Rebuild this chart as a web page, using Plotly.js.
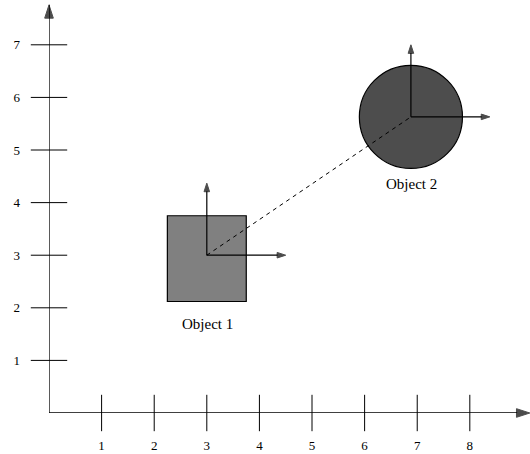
<!DOCTYPE html>
<html>
<head>
<meta charset="utf-8">
<script src="https://cdn.plot.ly/plotly-3.0.1.min.js"></script>
<style>html,body{margin:0;padding:0;background:#fff;}</style>
</head>
<body>
<div id="chart" style="width:530px;height:454px;"></div>
<script>
// ---- data ----
var xTicks = [1, 2, 3, 4, 5, 6, 7, 8];
var yTicks = [1, 2, 3, 4, 5, 6, 7];
var axisEnd = [9.14, 7.76];          // arrow tips of the x and y axes

var obj1Name = "Object 1";
var obj1Box = [2.25, 2.12, 3.75, 3.75]; // x0, y0, x1, y1
var obj1Origin = [3, 3];
var obj1FrameTips = [4.5, 4.37];     // x-arrow tip x, y-arrow tip y
var obj1LabelPos = [3.02, 1.7];

var obj2Name = "Object 2";
var obj2Center = [6.88, 5.63];
var obj2Radius = 0.98;
var obj2FrameTips = [8.38, 7.0];
var obj2LabelPos = [6.89, 4.36];

var FONT = "Liberation Serif, Times New Roman, serif";

function arrowTrace(x0, y0, x1, y1, size, width, symbol) {
  return {
    type: "scatter", mode: "lines+markers", x: [x0, x1], y: [y0, y1],
    line: {color: "#000", width: width},
    marker: {symbol: ["circle", symbol], size: [0, size], angleref: "previous",
             color: "#000", line: {color: "#000", width: 1}},
    cliponaxis: false, hoverinfo: "skip", showlegend: false
  };
}

var traces = [];
// dashed link between object frames
traces.push({
  type: "scatter", mode: "lines",
  x: [obj1Origin[0], obj2Center[0]], y: [obj1Origin[1], obj2Center[1]],
  line: {color: "#000", width: 1, dash: "4px,4px"},
  hoverinfo: "skip", showlegend: false, cliponaxis: false
});
// main axes
traces.push(arrowTrace(0, 0, axisEnd[0], 0, 14, 1.3, "arrow"));
traces.push(arrowTrace(0, 0, 0, axisEnd[1], 14, 1.3, "arrow"));
// axis tick marks
traces.push({
  type: "scatter", mode: "markers", x: xTicks, y: xTicks.map(function(){return 0;}),
  marker: {symbol: "line-ns", size: 26, line: {color: "#000", width: 1}},
  cliponaxis: false, hoverinfo: "skip", showlegend: false
});
traces.push({
  type: "scatter", mode: "markers", x: yTicks.map(function(){return 0;}), y: yTicks,
  marker: {symbol: "line-ew", size: 26, line: {color: "#000", width: 1}},
  cliponaxis: false, hoverinfo: "skip", showlegend: false
});
// object frames
traces.push(arrowTrace(obj1Origin[0], obj1Origin[1], obj1FrameTips[0], obj1Origin[1], 9, 1.2, "arrow"));
traces.push(arrowTrace(obj1Origin[0], obj1Origin[1], obj1Origin[0], obj1FrameTips[1], 9, 1.2, "arrow"));
traces.push(arrowTrace(obj2Center[0], obj2Center[1], obj2FrameTips[0], obj2Center[1], 9, 1.2, "arrow"));
traces.push(arrowTrace(obj2Center[0], obj2Center[1], obj2Center[0], obj2FrameTips[1], 9, 1.2, "arrow"));

var layout = {
  width: 530, height: 454,
  margin: {l: 49, r: 0, t: 0, b: 41, pad: 0},
  paper_bgcolor: "#fff", plot_bgcolor: "#fff",
  showlegend: false,
  font: {family: FONT, size: 13, color: "#000"},
  xaxis: {range: [0, 9.144], showgrid: false, zeroline: false, showline: false,
          tickmode: "array", tickvals: xTicks, ticktext: xTicks.map(String),
          ticks: "", ticklabelstandoff: 23, fixedrange: true,
          tickfont: {family: FONT, size: 13, color: "#000"}},
  yaxis: {range: [0, 7.852], showgrid: false, zeroline: false, showline: false,
          tickmode: "array", tickvals: yTicks, ticktext: yTicks.map(String),
          ticks: "", ticklabelstandoff: 28, fixedrange: true,
          tickfont: {family: FONT, size: 13, color: "#000"}},
  shapes: [
    {type: "rect", xref: "x", yref: "y", layer: "below",
     x0: obj1Box[0], y0: obj1Box[1], x1: obj1Box[2], y1: obj1Box[3],
     fillcolor: "#808080", line: {color: "#000", width: 1.2}},
    {type: "circle", xref: "x", yref: "y", layer: "below",
     x0: obj2Center[0] - obj2Radius, x1: obj2Center[0] + obj2Radius,
     y0: obj2Center[1] - obj2Radius, y1: obj2Center[1] + obj2Radius,
     fillcolor: "#4d4d4d", line: {color: "#000", width: 1.2}}
  ],
  annotations: [
    {x: obj1LabelPos[0], y: obj1LabelPos[1], xref: "x", yref: "y", text: obj1Name,
     showarrow: false, font: {family: FONT, size: 15, color: "#000"}},
    {x: obj2LabelPos[0], y: obj2LabelPos[1], xref: "x", yref: "y", text: obj2Name,
     showarrow: false, font: {family: FONT, size: 15, color: "#000"}}
  ]
};

Plotly.newPlot("chart", traces, layout, {staticPlot: true, displayModeBar: false});
</script>
</body>
</html>
